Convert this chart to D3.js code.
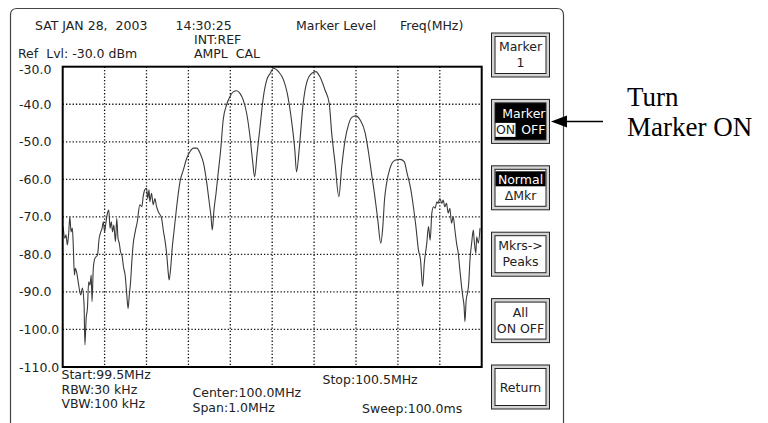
<!DOCTYPE html>
<html>
<head>
<meta charset="utf-8">
<script src="https://cdn.jsdelivr.net/npm/d3@7/dist/d3.min.js"></script>
<style>
  body { margin: 0; background: #fff; }
  svg { display: block; }
  text { font-family: "DejaVu Sans", Verdana, sans-serif; fill: #222; white-space: pre; }
</style>
</head>
<body>
<div id="chart"></div>
<script>
// trace, frequency in MHz / level in dBm
var traceFreq = [
  99.501, 99.505, 99.508, 99.511, 99.514, 99.517, 99.520, 99.523, 99.525, 99.528,
  99.530, 99.533, 99.537, 99.543, 99.547, 99.551, 99.553, 99.556, 99.559, 99.562,
  99.565, 99.568, 99.570, 99.573, 99.577, 99.583, 99.587, 99.591, 99.594, 99.597,
  99.600, 99.603, 99.606, 99.610, 99.613, 99.616, 99.619, 99.622, 99.626, 99.629,
  99.632, 99.635, 99.638, 99.642, 99.645, 99.649, 99.653, 99.656, 99.659, 99.662,
  99.665, 99.668, 99.673, 99.678, 99.684, 99.689, 99.692, 99.696, 99.700, 99.703,
  99.706, 99.708, 99.712, 99.716, 99.720, 99.724, 99.728, 99.736, 99.740, 99.744,
  99.748, 99.752, 99.754, 99.758, 99.761, 99.766, 99.772, 99.780, 99.788, 99.796,
  99.804, 99.812, 99.820, 99.828, 99.836, 99.844, 99.849, 99.854, 99.857, 99.861,
  99.866, 99.871, 99.877, 99.883, 99.891, 99.899, 99.907, 99.915, 99.923, 99.931,
  99.939, 99.947, 99.953, 99.958, 99.964, 99.971, 99.979, 99.987, 99.995, 100.003,
  100.015, 100.027, 100.036, 100.047, 100.054, 100.058, 100.065, 100.073, 100.082, 100.094,
  100.104, 100.114, 100.126, 100.136, 100.142, 100.150, 100.159, 100.166, 100.174, 100.182,
  100.190, 100.199, 100.210, 100.222, 100.229, 100.237, 100.245, 100.252, 100.259, 100.264,
  100.268, 100.273, 100.281, 100.293, 100.305, 100.315, 100.322, 100.331, 100.337, 100.343,
  100.349, 100.354, 100.359, 100.363, 100.369, 100.373, 100.377, 100.381, 100.385, 100.389,
  100.393, 100.396, 100.400, 100.405, 100.408, 100.412, 100.416, 100.420, 100.424, 100.428,
  100.432, 100.436, 100.440, 100.444, 100.448, 100.452, 100.455, 100.458, 100.460, 100.463,
  100.466, 100.469, 100.472, 100.476, 100.480, 100.482, 100.486, 100.488, 100.492, 100.496
];
var traceLevel = [
  -72.6, -75.7, -74.8, -77.5, -74.8, -70.0, -74.0, -73.0, -77.0, -85.5,
  -83.7, -84.6, -87.3, -90.8, -89.0, -93.5, -104.1, -97.0, -94.4, -87.3,
  -88.2, -85.5, -92.6, -83.7, -81.0, -80.2, -75.7, -74.0, -73.0, -71.3,
  -74.0, -71.7, -69.5, -68.2, -73.0, -71.3, -74.0, -72.2, -76.6, -70.4,
  -75.7, -77.0, -79.3, -80.6, -83.3, -85.5, -90.8, -94.4, -90.8, -87.3,
  -81.9, -77.5, -74.0, -71.3, -66.8, -67.3, -64.6, -62.8, -62.4, -65.1,
  -62.8, -66.0, -63.7, -66.8, -65.1, -67.3, -68.6, -70.4, -73.5, -76.2,
  -79.7, -85.0, -86.8, -83.3, -78.8, -73.5, -67.3, -60.6, -57.5, -54.4,
  -52.6, -51.7, -51.7, -53.1, -55.7, -61.1, -65.5, -70.0, -73.5, -68.2,
  -63.7, -58.4, -52.2, -44.2, -40.2, -38.0, -36.7, -36.4, -37.1, -38.9,
  -42.4, -48.6, -54.9, -59.3, -53.1, -46.0, -38.0, -33.5, -31.8, -30.4,
  -31.3, -33.5, -37.1, -45.1, -52.2, -58.0, -51.3, -40.7, -34.4, -31.8,
  -31.3, -32.7, -36.2, -39.7, -47.7, -55.7, -64.6, -56.6, -49.5, -45.5,
  -43.5, -43.1, -44.2, -47.7, -52.2, -58.4, -64.6, -70.8, -77.0, -72.6,
  -65.5, -61.1, -57.1, -54.9, -54.7, -55.3, -58.4, -62.8, -67.3, -72.6,
  -78.8, -81.5, -88.6, -82.4, -77.0, -72.6, -76.2, -69.0, -67.3, -67.7,
  -66.0, -66.4, -65.1, -66.4, -65.5, -67.3, -66.4, -69.0, -67.7, -71.7,
  -70.0, -73.5, -77.0, -79.7, -84.2, -88.6, -91.3, -93.9, -97.9, -92.1,
  -90.4, -87.7, -81.5, -77.0, -73.5, -76.2, -79.7, -75.3, -77.0, -73.0
];
var levelTicks = [-30, -40, -50, -60, -70, -80, -90, -100, -110];
var freqTicks = [99.6, 99.7, 99.8, 99.9, 100.0, 100.1, 100.2, 100.3, 100.4];

var headerTop = ['SAT JAN 28,  2003', '14:30:25', 'Marker Level', 'Freq(MHz)'];
var headerSub = ['INT:REF', 'Ref  Lvl: -30.0 dBm', 'AMPL  CAL'];
var footerLeft = ['Start:99.5MHz', 'RBW:30 kHz', 'VBW:100 kHz'];
var footerMid = ['Center:100.0MHz', 'Span:1.0MHz'];
var footerRight = ['Stop:100.5MHz', 'Sweep:100.0ms'];
var softKeys = [['Marker', '1'], ['Marker', 'ON OFF'], ['Normal', '\u0394Mkr'],
                ['Mkrs->', 'Peaks'], ['All', 'ON OFF'], ['Return']];
var noteLines = ['Turn', 'Marker ON'];

var W = 768, H = 423;
var plot = {left: 62.7, top: 66.7, right: 481.7, bottom: 367};

var svg = d3.select('#chart').append('svg')
  .attr('width', W).attr('height', H);

svg.append('rect').attr('width', W).attr('height', H).attr('fill', '#fff');

// outer screen frame (open at the bottom)
svg.append('path')
  .attr('d', 'M10.5,423 V15 Q10.5,8.5 17,8.5 H557 Q563.5,8.5 563.5,15 V423')
  .attr('fill', 'none').attr('stroke', '#444').attr('stroke-width', 1.2);

var x = d3.scaleLinear().domain([99.5, 100.5]).range([plot.left, plot.right]);
var y = d3.scaleLinear().domain([-110, -30]).range([plot.bottom, plot.top]);

// grid
var grid = svg.append('g')
  .attr('stroke', '#111').attr('stroke-width', 1.3).attr('stroke-dasharray', '1.3,2');
grid.selectAll('.vg').data(freqTicks).enter().append('line')
  .attr('x1', function(d) { return x(d); }).attr('x2', function(d) { return x(d); })
  .attr('y1', plot.top).attr('y2', plot.bottom);
grid.selectAll('.hg').data(levelTicks.slice(1, -1)).enter().append('line')
  .attr('y1', function(d) { return y(d); }).attr('y2', function(d) { return y(d); })
  .attr('x1', plot.left).attr('x2', plot.right);

// trace
var pts = traceFreq.map(function(f, i) { return [f, traceLevel[i]]; });
var line = d3.line()
  .x(function(d) { return x(d[0]); })
  .y(function(d) { return y(d[1]); })
  .curve(d3.curveMonotoneX);
svg.append('path').datum(pts)
  .attr('d', line)
  .attr('fill', 'none').attr('stroke', '#3a3a3a').attr('stroke-width', 1.1);

// plot border
svg.append('rect')
  .attr('x', plot.left).attr('y', plot.top)
  .attr('width', plot.right - plot.left).attr('height', plot.bottom - plot.top)
  .attr('fill', 'none').attr('stroke', '#000').attr('stroke-width', 2);

// level labels
svg.selectAll('.yl').data(levelTicks).enter().append('text')
  .attr('x', 19)
  .attr('y', function(d) { return Math.max(y(d) + 4.5, 74); })
  .style('font-size', '12.5px')
  .text(function(d) { return d.toFixed(1); });

function label(txt, px, py) {
  return svg.append('text').attr('x', px).attr('y', py)
    .style('font-size', '12.5px').text(txt);
}

label(headerTop[0], 35, 29.5);
label(headerTop[1], 175.5, 29.5);
label(headerTop[2], 296, 29.5);
label(headerTop[3], 400, 29.5);
label(headerSub[0], 194, 44);
label(headerSub[1], 18, 57.5);
label(headerSub[2], 194, 57.5);

label(footerLeft[0], 61.5, 379);
label(footerLeft[1], 61.5, 393.5);
label(footerLeft[2], 61.5, 408);
label(footerMid[0], 192.5, 396.5);
label(footerMid[1], 192.5, 411.5);
label(footerRight[0], 322.5, 384);
label(footerRight[1], 362, 412.5);

// soft keys
var bx = 491, bw = 58, bh = 44, inset = 3.5;
softKeys.forEach(function(lines, i) {
  var top = 32.5 + i * 66.4;
  var g = svg.append('g');
  g.append('rect').attr('x', bx + 0.5).attr('y', top + 0.5)
    .attr('width', bw).attr('height', bh)
    .attr('fill', '#d4d4d4').attr('stroke', '#222').attr('stroke-width', 1);
  var dark = (i === 1);
  g.append('rect').attr('x', bx + inset + 0.5).attr('y', top + inset + 0.5)
    .attr('width', bw - 2 * inset).attr('height', bh - 2 * inset)
    .attr('fill', dark ? '#000' : '#fff').attr('stroke', '#222').attr('stroke-width', 1);
  var cx = bx + bw / 2 + 0.5;
  var il = bx + inset + 1, ir = bx + bw - inset;
  if (lines.length === 1) {
    g.append('text').attr('x', cx).attr('y', top + 27)
      .attr('text-anchor', 'middle').style('font-size', '12.5px').text(lines[0]);
    return;
  }
  if (i === 1) {
    g.append('text').attr('x', ir).attr('y', top + 19)
      .attr('text-anchor', 'end').style('font-size', '12.5px').style('fill', '#fff')
      .text(lines[0]);
    var parts = lines[1].split(' ');
    g.append('rect').attr('x', il).attr('y', top + 24).attr('width', 20).attr('height', 14)
      .attr('fill', '#fff');
    g.append('text').attr('x', il + 0.5).attr('y', top + 35.5)
      .style('font-size', '12.5px').text(parts[0]);
    g.append('text').attr('x', ir).attr('y', top + 35.5)
      .attr('text-anchor', 'end').style('font-size', '12.5px').style('fill', '#fff')
      .text(parts[1]);
    return;
  }
  if (i === 2) {
    g.append('rect').attr('x', il).attr('y', top + 6).attr('width', ir - il).attr('height', 15)
      .attr('fill', '#000');
  }
  g.append('text').attr('x', cx).attr('y', top + 18.5)
    .attr('text-anchor', 'middle').style('font-size', '12.5px')
    .style('fill', i === 2 ? '#fff' : '#222').text(lines[0]);
  g.append('text').attr('x', cx).attr('y', top + 34.5)
    .attr('text-anchor', 'middle').style('font-size', '12.5px').text(lines[1]);
});

// callout arrow
var ay = 32.5 + 66.4 + bh / 2 + 0.5;
svg.append('line').attr('x1', 565).attr('x2', 603).attr('y1', ay).attr('y2', ay)
  .attr('stroke', '#000').attr('stroke-width', 1.5);
svg.append('path')
  .attr('d', 'M551,' + ay + ' L567,' + (ay - 6) + ' L567,' + (ay + 6) + ' Z')
  .attr('fill', '#000');

svg.selectAll('.note').data(noteLines).enter().append('text')
  .attr('x', 627)
  .attr('y', function(d, i) { return 106 + i * 30; })
  .style('font-family', '"Liberation Serif", "Times New Roman", serif')
  .style('font-size', '27px')
  .style('fill', '#000')
  .text(function(d) { return d; });
</script>
</body>
</html>
